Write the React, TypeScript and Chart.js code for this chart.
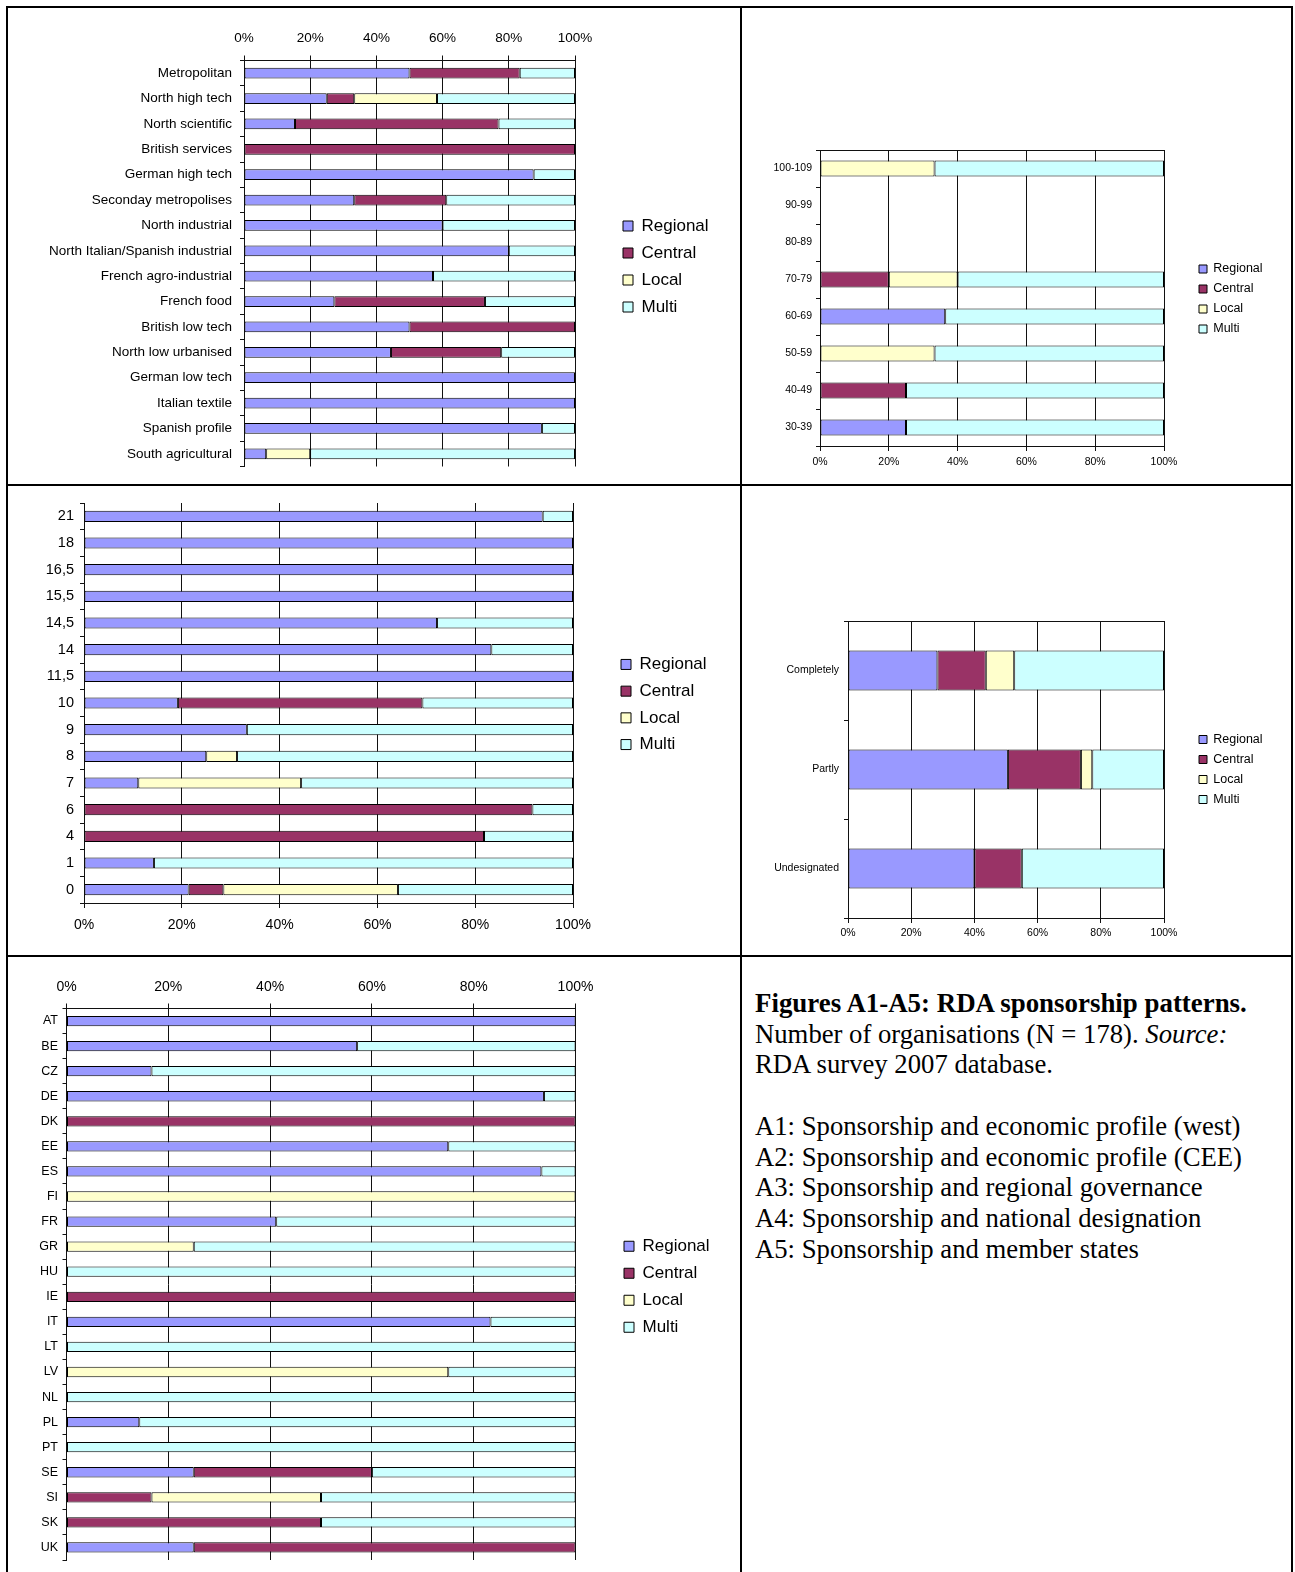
import React, { useEffect, useRef } from "react";
import { Chart, registerables } from "chart.js";

Chart.register(...registerables);

// ---------- shared ----------
const SERIES = ["Regional", "Central", "Local", "Multi"];
const COLORS = ["#9999FF", "#993366", "#FFFFCC", "#CCFFFF"];
const PCT_MIN = 0;
const PCT_MAX = 100;
const PCT_STEP = 20;

// ---------- A1: Sponsorship and economic profile (west) ----------
const a1Categories = [
  "Metropolitan",
  "North high tech",
  "North scientific",
  "British services",
  "German high tech",
  "Seconday metropolises",
  "North industrial",
  "North Italian/Spanish industrial",
  "French agro-industrial",
  "French food",
  "British low tech",
  "North low urbanised",
  "German low tech",
  "Italian textile",
  "Spanish profile",
  "South agricultural",
];
const a1Regional = [50, 25, 15.4, 0, 87.5, 33.3, 60, 80, 57.1, 27.3, 50, 44.4, 100, 100, 90, 6.7];
const a1Central = [33.3, 8.3, 61.5, 100, 0, 27.8, 0, 0, 0, 45.5, 50, 33.3, 0, 0, 0, 0];
const a1Local = [0, 25, 0, 0, 0, 0, 0, 0, 0, 0, 0, 0, 0, 0, 0, 13.3];
const a1Multi = [16.7, 41.7, 23.1, 0, 12.5, 38.9, 40, 20, 42.9, 27.2, 0, 22.3, 0, 0, 10, 80];

// ---------- A2: Sponsorship and economic profile (CEE) ----------
const a2Categories = ["100-109", "90-99", "80-89", "70-79", "60-69", "50-59", "40-49", "30-39"];
const a2Regional = [0, 0, 0, 0, 36.4, 0, 0, 25];
const a2Central = [0, 0, 0, 20, 0, 0, 25, 0];
const a2Local = [33.3, 0, 0, 20, 0, 33.3, 0, 0];
const a2Multi = [66.7, 0, 0, 60, 63.6, 66.7, 75, 75];

// ---------- A3: Sponsorship and regional governance ----------
const a3Categories = ["21", "18", "16,5", "15,5", "14,5", "14", "11,5", "10", "9", "8", "7", "6", "4", "1", "0"];
const a3Regional = [93.8, 100, 100, 100, 72.2, 83.3, 100, 19.2, 33.3, 25, 11.1, 0, 0, 14.3, 21.4];
const a3Central = [0, 0, 0, 0, 0, 0, 0, 50, 0, 0, 0, 91.7, 81.8, 0, 7.1];
const a3Local = [0, 0, 0, 0, 0, 0, 0, 0, 0, 6.3, 33.3, 0, 0, 0, 35.7];
const a3Multi = [6.2, 0, 0, 0, 27.8, 16.7, 0, 30.8, 66.7, 68.7, 55.6, 8.3, 18.2, 85.7, 35.8];

// ---------- A4: Sponsorship and national designation ----------
const a4Categories = ["Completely", "Partly", "Undesignated"];
const a4Regional = [28.3, 50.6, 40];
const a4Central = [15.3, 23.1, 15];
const a4Local = [9.0, 3.6, 0];
const a4Multi = [47.4, 22.7, 45];

// ---------- A5: Sponsorship and member states ----------
const a5Categories = [
  "AT", "BE", "CZ", "DE", "DK", "EE", "ES", "FI", "FR", "GR", "HU",
  "IE", "IT", "LT", "LV", "NL", "PL", "PT", "SE", "SI", "SK", "UK",
];
const a5Regional = [100, 57.1, 16.7, 93.8, 0, 75, 93.3, 0, 41.2, 0, 0, 0, 83.3, 0, 0, 0, 14.3, 0, 25, 0, 0, 25];
const a5Central = [0, 0, 0, 0, 100, 0, 0, 0, 0, 0, 0, 100, 0, 0, 0, 0, 0, 0, 35, 16.7, 50, 75];
const a5Local = [0, 0, 0, 0, 0, 0, 0, 100, 0, 25, 0, 0, 0, 0, 75, 0, 0, 0, 0, 33.3, 0, 0];
const a5Multi = [0, 42.9, 83.3, 6.2, 0, 25, 6.7, 0, 58.8, 75, 100, 0, 16.7, 100, 25, 100, 85.7, 100, 40, 50, 50, 0];

// ---------- caption ----------
const captionTitle = "Figures A1-A5: RDA sponsorship patterns.";
const captionLine2a = "Number of organisations (N = 178). ";
const captionLine2b = "Source:";
const captionLine3 = "RDA survey 2007 database.";
const captionItems = [
  "A1: Sponsorship and economic profile (west)",
  "A2: Sponsorship and economic profile (CEE)",
  "A3: Sponsorship and regional governance",
  "A4: Sponsorship and national designation",
  "A5: Sponsorship and member states",
];

const SANS = "'Liberation Sans', Arial, Helvetica, sans-serif";
const GRID = "#111";

type Spec = {
  left: number;
  top: number;
  width: number;
  height: number;
  categories: string[];
  values: number[][];
  xPos: "top" | "bottom";
  topBorder: boolean;
  area: { left: number; right: number; top: number; bottom: number };
  yFont: number;
  yPad: number;
  xFont: number;
  xPad: number;
  legendFont: number;
  legendBox: number;
  legendPad: number;
  legendBoxLeft: number;
  legendShift: number;
  barFrac: number;
};

function legendNaturalWidth(s: Spec): number {
  const c = document.createElement("canvas").getContext("2d");
  let textW = 0;
  if (c) {
    c.font = `normal ${s.legendFont}px ${SANS}`;
    for (const t of SERIES) textW = Math.max(textW, c.measureText(t).width);
  }
  return s.legendPad + s.legendBox + s.legendFont / 2 + textW + 10;
}

function BarPanel({ spec }: { spec: Spec }) {
  const ref = useRef<HTMLCanvasElement | null>(null);
  useEffect(() => {
    const s = spec;
    if (!ref.current) return;
    const legendLeft = s.legendBoxLeft - s.legendPad;
    const legendW = legendNaturalWidth(s);
    const padGap = legendLeft - s.area.right;
    const padRight = Math.max(0, s.width - legendLeft - legendW);
    const font = (size: number) => ({ family: SANS, size });
    const scales: any = {
      x: {
        type: "linear",
        position: s.xPos,
        stacked: true,
        min: PCT_MIN,
        max: PCT_MAX,
        ticks: {
          stepSize: PCT_STEP,
          callback: (v: any) => v + "%",
          font: font(s.xFont),
          color: "#000",
          padding: s.xPad,
          maxRotation: 0,
          autoSkip: false,
        },
        grid: { color: GRID, lineWidth: 1, drawTicks: true, tickLength: 5 },
        border: { display: true, color: GRID, width: 1 },
        afterFit: (sc: any) => {
          sc.height = s.xPos === "top" ? s.area.top : s.height - s.area.bottom;
        },
      },
      y: {
        type: "category",
        position: "left",
        stacked: true,
        ticks: { font: font(s.yFont), color: "#000", padding: s.yPad, autoSkip: false },
        grid: { drawOnChartArea: false, drawTicks: true, tickLength: 4, offset: true, color: GRID },
        border: { display: true, color: GRID, width: 1 },
        afterFit: (sc: any) => {
          sc.width = s.area.left;
        },
      },
      yPad: {
        type: "linear",
        axis: "y",
        position: "right",
        display: true,
        ticks: { display: false },
        grid: { display: false },
        border: { display: false },
        afterFit: (sc: any) => {
          sc.width = padGap;
        },
      },
    };
    if (s.topBorder) {
      scales.xTop = {
        type: "linear",
        axis: "x",
        position: "top",
        display: true,
        ticks: { display: false },
        grid: { display: false },
        border: { display: true, color: GRID, width: 1 },
        afterFit: (sc: any) => {
          sc.height = s.area.top;
        },
      };
    }
    const shiftTitle =
      s.legendShift > 0
        ? {
            display: true,
            text: "",
            font: { family: SANS, size: 1 },
            padding: { top: Math.max(0, 2 * s.legendShift - 1.2), bottom: 0 },
          }
        : { display: false };
    const chart = new Chart(ref.current, {
      type: "bar",
      data: {
        labels: s.categories,
        datasets: SERIES.map((name, i) => ({
          label: name,
          data: s.values[i].map((v) => (v === 0 ? null : v)),
          backgroundColor: COLORS[i],
          borderColor: "#000",
          borderWidth: 1,
          borderSkipped: false,
          inflateAmount: 0,
          categoryPercentage: 1,
          barPercentage: s.barFrac,
        })) as any,
      },
      options: {
        indexAxis: "y",
        responsive: false,
        maintainAspectRatio: false,
        animation: false,
        devicePixelRatio: 1,
        events: [],
        layout: {
          padding: {
            left: 0,
            right: padRight,
            top: s.xPos === "top" || s.topBorder ? 0 : s.area.top,
            bottom: s.xPos === "top" ? s.height - s.area.bottom : 0,
          },
        },
        scales,
        plugins: {
          legend: {
            display: true,
            position: "right",
            align: "center",
            fullSize: false,
            maxWidth: 400,
            title: shiftTitle,
            labels: {
              boxWidth: s.legendBox,
              boxHeight: s.legendBox,
              padding: s.legendPad,
              font: font(s.legendFont),
              color: "#000",
            },
          },
          tooltip: { enabled: false },
        },
      } as any,
    });
    return () => chart.destroy();
  }, [spec]);
  return (
    <canvas
      ref={ref}
      width={spec.width}
      height={spec.height}
      style={{
        position: "absolute",
        left: spec.left,
        top: spec.top,
        width: spec.width,
        height: spec.height,
        display: "block",
      }}
    />
  );
}

const specA1: Spec = {
  left: 8, top: 8, width: 732, height: 476,
  categories: a1Categories,
  values: [a1Regional, a1Central, a1Local, a1Multi],
  xPos: "top", topBorder: false,
  area: { left: 236, right: 567, top: 52.5, bottom: 458.5 },
  yFont: 13.5, yPad: 8, xFont: 13.5, xPad: 9,
  legendFont: 17, legendBox: 10, legendPad: 10, legendBoxLeft: 615, legendShift: 3,
  barFrac: 0.42,
};
const specA2: Spec = {
  left: 742, top: 8, width: 549, height: 476,
  categories: a2Categories,
  values: [a2Regional, a2Central, a2Local, a2Multi],
  xPos: "bottom", topBorder: true,
  area: { left: 78, right: 422, top: 142, bottom: 438 },
  yFont: 10.5, yPad: 4, xFont: 10.5, xPad: 5,
  legendFont: 12.5, legendBox: 8, legendPad: 7.5, legendBoxLeft: 457, legendShift: 1,
  barFrac: 0.43,
};
const specA3: Spec = {
  left: 8, top: 486, width: 732, height: 469,
  categories: a3Categories,
  values: [a3Regional, a3Central, a3Local, a3Multi],
  xPos: "bottom", topBorder: false,
  area: { left: 76, right: 565, top: 17, bottom: 417 },
  yFont: 14.5, yPad: 6, xFont: 14, xPad: 9,
  legendFont: 17, legendBox: 10, legendPad: 9.7, legendBoxLeft: 613, legendShift: 1.5,
  barFrac: 0.42,
};
const specA4: Spec = {
  left: 742, top: 486, width: 549, height: 469,
  categories: a4Categories,
  values: [a4Regional, a4Central, a4Local, a4Multi],
  xPos: "bottom", topBorder: true,
  area: { left: 106, right: 422, top: 135, bottom: 432 },
  yFont: 10.5, yPad: 5, xFont: 10.5, xPad: 4,
  legendFont: 12.5, legendBox: 8, legendPad: 7.5, legendBoxLeft: 457, legendShift: 0,
  barFrac: 0.405,
};
const specA5: Spec = {
  left: 8, top: 957, width: 732, height: 615,
  categories: a5Categories,
  values: [a5Regional, a5Central, a5Local, a5Multi],
  xPos: "top", topBorder: false,
  area: { left: 58.5, right: 567.5, top: 51.5, bottom: 603.5 },
  yFont: 12.5, yPad: 4.5, xFont: 14, xPad: 8,
  legendFont: 17, legendBox: 10, legendPad: 10, legendBoxLeft: 616, legendShift: 2.5,
  barFrac: 0.41,
};

function Line({ x, y, w, h }: { x: number; y: number; w: number; h: number }) {
  return <div style={{ position: "absolute", left: x, top: y, width: w, height: h, background: "#000" }} />;
}

export default function App() {
  return (
    <div
      style={{
        position: "absolute",
        left: 0,
        top: 0,
        width: 1295,
        height: 1572,
        background: "#fff",
        overflow: "hidden",
      }}
    >
      <BarPanel spec={specA1} />
      <BarPanel spec={specA2} />
      <BarPanel spec={specA3} />
      <BarPanel spec={specA4} />
      <BarPanel spec={specA5} />

      {/* table borders */}
      <Line x={6} y={6} w={1287} h={2} />
      <Line x={6} y={484} w={1287} h={2} />
      <Line x={6} y={955} w={1287} h={2} />
      <Line x={6} y={6} w={2} h={1566} />
      <Line x={740} y={6} w={2} h={1566} />
      <Line x={1291} y={6} w={2} h={1566} />

      {/* caption */}
      <div
        style={{
          position: "absolute",
          left: 755,
          top: 988,
          fontFamily: "'Liberation Serif', 'Times New Roman', Times, serif",
          fontSize: 26.7,
          lineHeight: "30.7px",
          color: "#000",
          whiteSpace: "nowrap",
        }}
      >
        <div style={{ fontWeight: "bold", fontSize: 26.9 }}>{captionTitle}</div>
        <div>
          {captionLine2a}
          <i>{captionLine2b}</i>
        </div>
        <div>{captionLine3}</div>
        <div>&nbsp;</div>
        {captionItems.map((t) => (
          <div key={t}>{t}</div>
        ))}
      </div>
    </div>
  );
}
